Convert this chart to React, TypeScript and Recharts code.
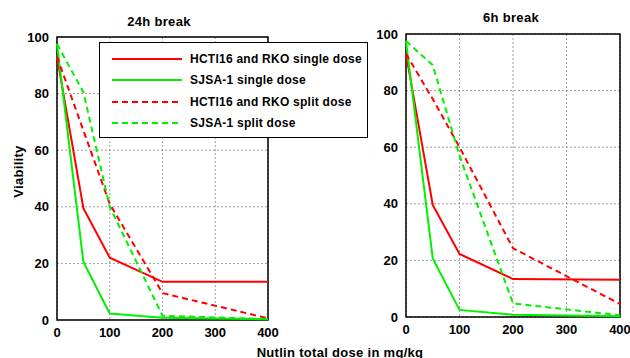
import React from 'react';
import { LineChart, Line, XAxis, YAxis, CartesianGrid, ReferenceArea } from 'recharts';

const doses = [0, 50, 100, 200, 400];
const xTicks = [0, 100, 200, 300, 400];
const yTicks = [0, 20, 40, 60, 80, 100];

const hctSingle24 = [93, 39.5, 22, 13.5, 13.5];
const sjsaSingle24 = [97.5, 20.5, 2.3, 0.8, 0.3];
const hctSplit24 = [93, 67, 41, 9.5, 0.6];
const sjsaSplit24 = [97.5, 80.5, 40, 1.5, 0.3];

const hctSingle6 = [93, 39.6, 22.3, 13.4, 13.2];
const sjsaSingle6 = [97.5, 20.7, 2.5, 0.8, 0.3];
const hctSplit6 = [93, 77, 60, 24.3, 4.6];
const sjsaSplit6 = [97.5, 89, 57, 4.8, 0.6];

const seriesNames = [
  'HCTl16 and RKO single dose',
  'SJSA-1 single dose',
  'HCTl16 and RKO split dose',
  'SJSA-1 split dose',
];
const seriesColors = ['#ff0000', '#00f000', '#ff0000', '#00f000'];
const seriesDash = ['', '', '6 4', '6 4'];

const FONT = '"Liberation Sans", Arial, sans-serif';

function build(a: number[], b: number[], c: number[], d: number[]) {
  return doses.map((x, i) => ({ x, s0: a[i], s1: b[i], s2: c[i], s3: d[i] }));
}

const data24 = build(hctSingle24, sjsaSingle24, hctSplit24, sjsaSplit24);
const data6 = build(hctSingle6, sjsaSingle6, hctSplit6, sjsaSplit6);

const tickStyle = { fontFamily: FONT, fontWeight: 700, fontSize: 13, fill: '#000' };

function Panel({ data, width, margin, yWidth }: any) {
  return (
    <LineChart width={width} height={358} data={data} margin={margin}>
      <CartesianGrid stroke="#888" strokeDasharray="2 2" strokeWidth={0.8} />
      <XAxis
        dataKey="x"
        type="number"
        domain={[0, 400]}
        ticks={xTicks}
        tickLine={false}
        axisLine={false}
        tick={tickStyle}
        height={20}
        interval={0}
      />
      <YAxis
        type="number"
        domain={[0, 100]}
        ticks={yTicks}
        tickLine={false}
        axisLine={false}
        tick={tickStyle}
        width={yWidth}
        interval={0}
      />
      {['s0', 's1', 's2', 's3'].map((k, i) => (
        <Line
          key={k}
          dataKey={k}
          type="linear"
          stroke={seriesColors[i]}
          strokeWidth={2}
          strokeDasharray={seriesDash[i] || undefined}
          dot={false}
          isAnimationActive={false}
        />
      ))}
      <ReferenceArea x1={0} x2={400} y1={0} y2={100} fill="none" stroke="#000" strokeWidth={1.5} ifOverflow="visible" />
    </LineChart>
  );
}

const textStyle: React.CSSProperties = { fontWeight: 700, fontSize: 13, whiteSpace: 'nowrap', lineHeight: '15px' };

export default function App() {
  return (
    <div style={{ position: 'absolute', left: 0, top: 0, width: 630, height: 358, background: '#fff', overflow: 'hidden', fontFamily: FONT }}>
      <div style={{ position: 'absolute', left: 0, top: 0 }}>
        <Panel data={data24} width={300} margin={{ top: 37, right: 32, bottom: 18, left: 0 }} yWidth={57} />
      </div>
      <div style={{ position: 'absolute', left: 320, top: 0 }}>
        <Panel data={data6} width={310} margin={{ top: 34, right: 10, bottom: 21, left: 0 }} yWidth={86} />
      </div>
      <div style={{ ...textStyle, position: 'absolute', left: 59, width: 200, top: 14, textAlign: 'center', letterSpacing: 0.3 }}>24h break</div>
      <div style={{ ...textStyle, position: 'absolute', left: 411, width: 200, top: 10, textAlign: 'center', letterSpacing: 0.3 }}>6h break</div>
      <div
        style={{
          ...textStyle,
          position: 'absolute',
          left: -82,
          width: 200,
          top: 164,
          textAlign: 'center',
          letterSpacing: 0.3,
          transform: 'rotate(-90deg)',
        }}
      >
        Viability
      </div>
      <div style={{ ...textStyle, position: 'absolute', left: 240, width: 200, top: 345, textAlign: 'center', letterSpacing: 0.3 }}>
        Nutlin total dose in mg/kg
      </div>
      <div
        style={{
          position: 'absolute',
          left: 99,
          top: 42,
          width: 269,
          height: 96,
          boxSizing: 'border-box',
          border: '1.5px solid #000',
          background: '#fff',
        }}
      >
        {seriesNames.map((name, i) => (
          <div key={name} style={{ position: 'absolute', left: 11, top: 8 + i * 21.4, height: 16, display: 'flex', alignItems: 'center' }}>
            <svg width={72} height={16}>
              <line x1={1} y1={8} x2={71} y2={8} stroke={seriesColors[i]} strokeWidth={2} strokeDasharray={seriesDash[i] || undefined} />
            </svg>
            <span style={{ marginLeft: 7, fontWeight: 700, fontSize: 12, letterSpacing: 0.25, whiteSpace: 'nowrap' }}>{name}</span>
          </div>
        ))}
      </div>
    </div>
  );
}
